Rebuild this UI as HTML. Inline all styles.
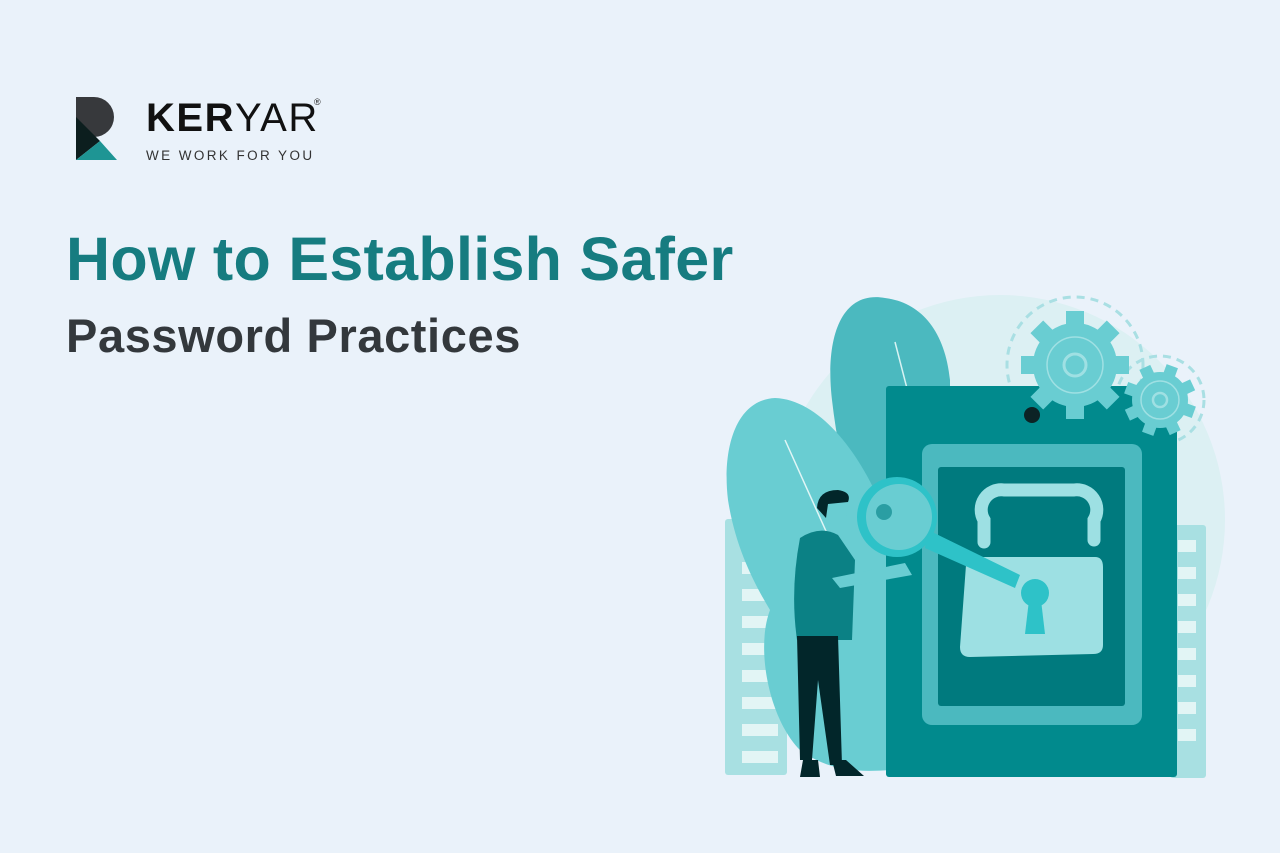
<!DOCTYPE html>
<html><head><meta charset="utf-8"><style>
html,body{margin:0;padding:0}
body{width:1280px;height:853px;background:#eaf2fa;position:relative;overflow:hidden;font-family:"Liberation Sans",sans-serif}
.t1{position:absolute;left:66px;top:224px;font-size:61px;font-weight:bold;color:#167c80;letter-spacing:0.3px;margin:0;white-space:nowrap}
.t2{position:absolute;left:66px;top:308px;font-size:47px;font-weight:bold;color:#33383c;margin:0;letter-spacing:0.6px;white-space:nowrap}
.brand{position:absolute;left:146px;top:96px;font-size:40px;color:#111;letter-spacing:1.5px;line-height:44px}
.brand b{font-weight:bold}
.tag{position:absolute;left:146px;top:148px;font-size:13.5px;color:#333;letter-spacing:2.4px}
.reg{position:absolute;left:314px;top:97px;font-size:9px;color:#222}
</style></head><body>
<svg style="position:absolute;left:76px;top:97px" width="42" height="64" viewBox="0 0 42 64">
<path d="M0 0 H18 A20 20 0 0 1 18 40 L0 40 Z" fill="#37393c"/>
<path d="M0 20 L24 44 L0 63 Z" fill="#0c1e1e"/>
<path d="M0 63 L24 44 L41 63 Z" fill="#1e9594"/>
</svg>
<div class="brand"><b>KER</b>YAR</div>
<div class="reg">®</div>
<div class="tag">WE WORK FOR YOU</div>
<h1 class="t1">How to Establish Safer</h1>
<h2 class="t2">Password Practices</h2>
<svg style="position:absolute;left:0;top:0" width="1280" height="853">
<circle cx="1000" cy="520" r="225" fill="#dcf0f3"/>
<rect x="725" y="519" width="62" height="256" rx="3" fill="#a8e0e2"/>
<g fill="#e2f5f5"><rect x="742" y="535" width="36" height="12"/><rect x="742" y="562" width="36" height="12"/><rect x="742" y="589" width="36" height="12"/><rect x="742" y="616" width="36" height="12"/><rect x="742" y="643" width="36" height="12"/><rect x="742" y="670" width="36" height="12"/><rect x="742" y="697" width="36" height="12"/><rect x="742" y="724" width="36" height="12"/><rect x="742" y="751" width="36" height="12"/></g>
<rect x="1170" y="525" width="36" height="253" rx="3" fill="#a8e0e2"/>
<g fill="#e2f5f5"><rect x="1178" y="540" width="18" height="12"/><rect x="1178" y="567" width="18" height="12"/><rect x="1178" y="594" width="18" height="12"/><rect x="1178" y="621" width="18" height="12"/><rect x="1178" y="648" width="18" height="12"/><rect x="1178" y="675" width="18" height="12"/><rect x="1178" y="702" width="18" height="12"/><rect x="1178" y="729" width="18" height="12"/></g>
<path d="M885 298 C840 290 825 340 832 400 C840 470 860 540 880 620 L900 700 L950 700 L950 380 C945 330 920 302 885 298 Z" fill="#4bb9bf"/>
<line x1="895" y1="342" x2="910" y2="400" stroke="#d8f3f3" stroke-width="1.5"/>
<path d="M775 398 C735 400 722 450 728 500 C735 545 752 580 770 610 C755 650 770 720 800 750 C830 772 860 772 890 770 L900 770 L900 560 C880 480 830 400 775 398 Z" fill="#69cdd2"/>
<line x1="785" y1="440" x2="830" y2="540" stroke="#e0f6f6" stroke-width="1.5"/>
<circle cx="1075" cy="365" r="68" fill="none" stroke="#a9dfe3" stroke-width="3" stroke-dasharray="8 6"/>
<circle cx="1160" cy="400" r="44" fill="none" stroke="#a9dfe3" stroke-width="3" stroke-dasharray="8 6"/>
<rect x="886" y="386" width="291" height="391" rx="3" fill="#018a8d"/>
<rect x="922" y="444" width="220" height="281" rx="10" fill="#4bb9bf"/>
<rect x="938" y="467" width="187" height="239" rx="3" fill="#007a7e"/>
<path d="M984 542 V520 A20 20 0 0 1 1004 490 H1074 A20 20 0 0 1 1094 520 V540" fill="none" stroke="#9de0e3" stroke-width="13" stroke-linecap="round"/>
<path d="M966 565 Q962 557 972 557 H1095 Q1103 557 1103 567 V645 Q1103 654 1093 654 L970 657 Q960 657 960 647 Z" fill="#9de0e3"/>
<circle cx="1035" cy="593" r="14" fill="#2ec2c8"/>
<path d="M1029 600 L1025 634 H1045 L1041 600 Z" fill="#2ec2c8"/>
<circle cx="1032" cy="415" r="8" fill="#0c2325"/>
<g fill="#69cdd2">
<circle cx="1075" cy="365" r="42"/>
<g transform="translate(1075 365)"><rect x="-9" y="-54" width="18" height="108"/><rect x="-9" y="-54" width="18" height="108" transform="rotate(45)"/><rect x="-9" y="-54" width="18" height="108" transform="rotate(90)"/><rect x="-9" y="-54" width="18" height="108" transform="rotate(135)"/></g>
<circle cx="1160" cy="400" r="28"/>
<g transform="translate(1160 400) rotate(20)"><rect x="-6" y="-36" width="12" height="72"/><rect x="-6" y="-36" width="12" height="72" transform="rotate(45)"/><rect x="-6" y="-36" width="12" height="72" transform="rotate(90)"/><rect x="-6" y="-36" width="12" height="72" transform="rotate(135)"/></g>
</g>
<circle cx="1075" cy="365" r="28" fill="none" stroke="#9fe0e3" stroke-width="1.5"/>
<circle cx="1075" cy="365" r="11" fill="none" stroke="#9fe0e3" stroke-width="3"/>
<circle cx="1160" cy="400" r="19" fill="none" stroke="#9fe0e3" stroke-width="1.5"/>
<circle cx="1160" cy="400" r="7" fill="none" stroke="#9fe0e3" stroke-width="2.5"/>
<path d="M928 530 L1020 575 L1015 588 L925 548 Z" fill="#2ec2c8"/>
<circle cx="897" cy="517" r="40" fill="#2ec2c8"/>
<circle cx="899" cy="517" r="33" fill="#69cdd2"/>
<circle cx="884" cy="512" r="8" fill="#2a9ea3"/>
<path d="M800 538 Q820 525 838 535 L855 560 L852 640 L797 640 Q790 590 800 538 Z" fill="#0b8185"/>
<path d="M832 578 L905 563 L912 575 L840 588 Z" fill="#69cdd2"/>
<path d="M797 636 H838 L842 765 H830 L818 680 L812 760 H800 Z" fill="#02262a"/>
<path d="M803 760 H818 L820 777 H800 Z M832 760 H846 L864 776 H836 Z" fill="#02262a"/>
<circle cx="834" cy="511" r="13" fill="#69cdd2"/>
<path d="M817 508 Q818 490 838 490 Q852 492 848 502 L828 504 L826 518 Z" fill="#02262a"/>
</svg>
</body></html>
